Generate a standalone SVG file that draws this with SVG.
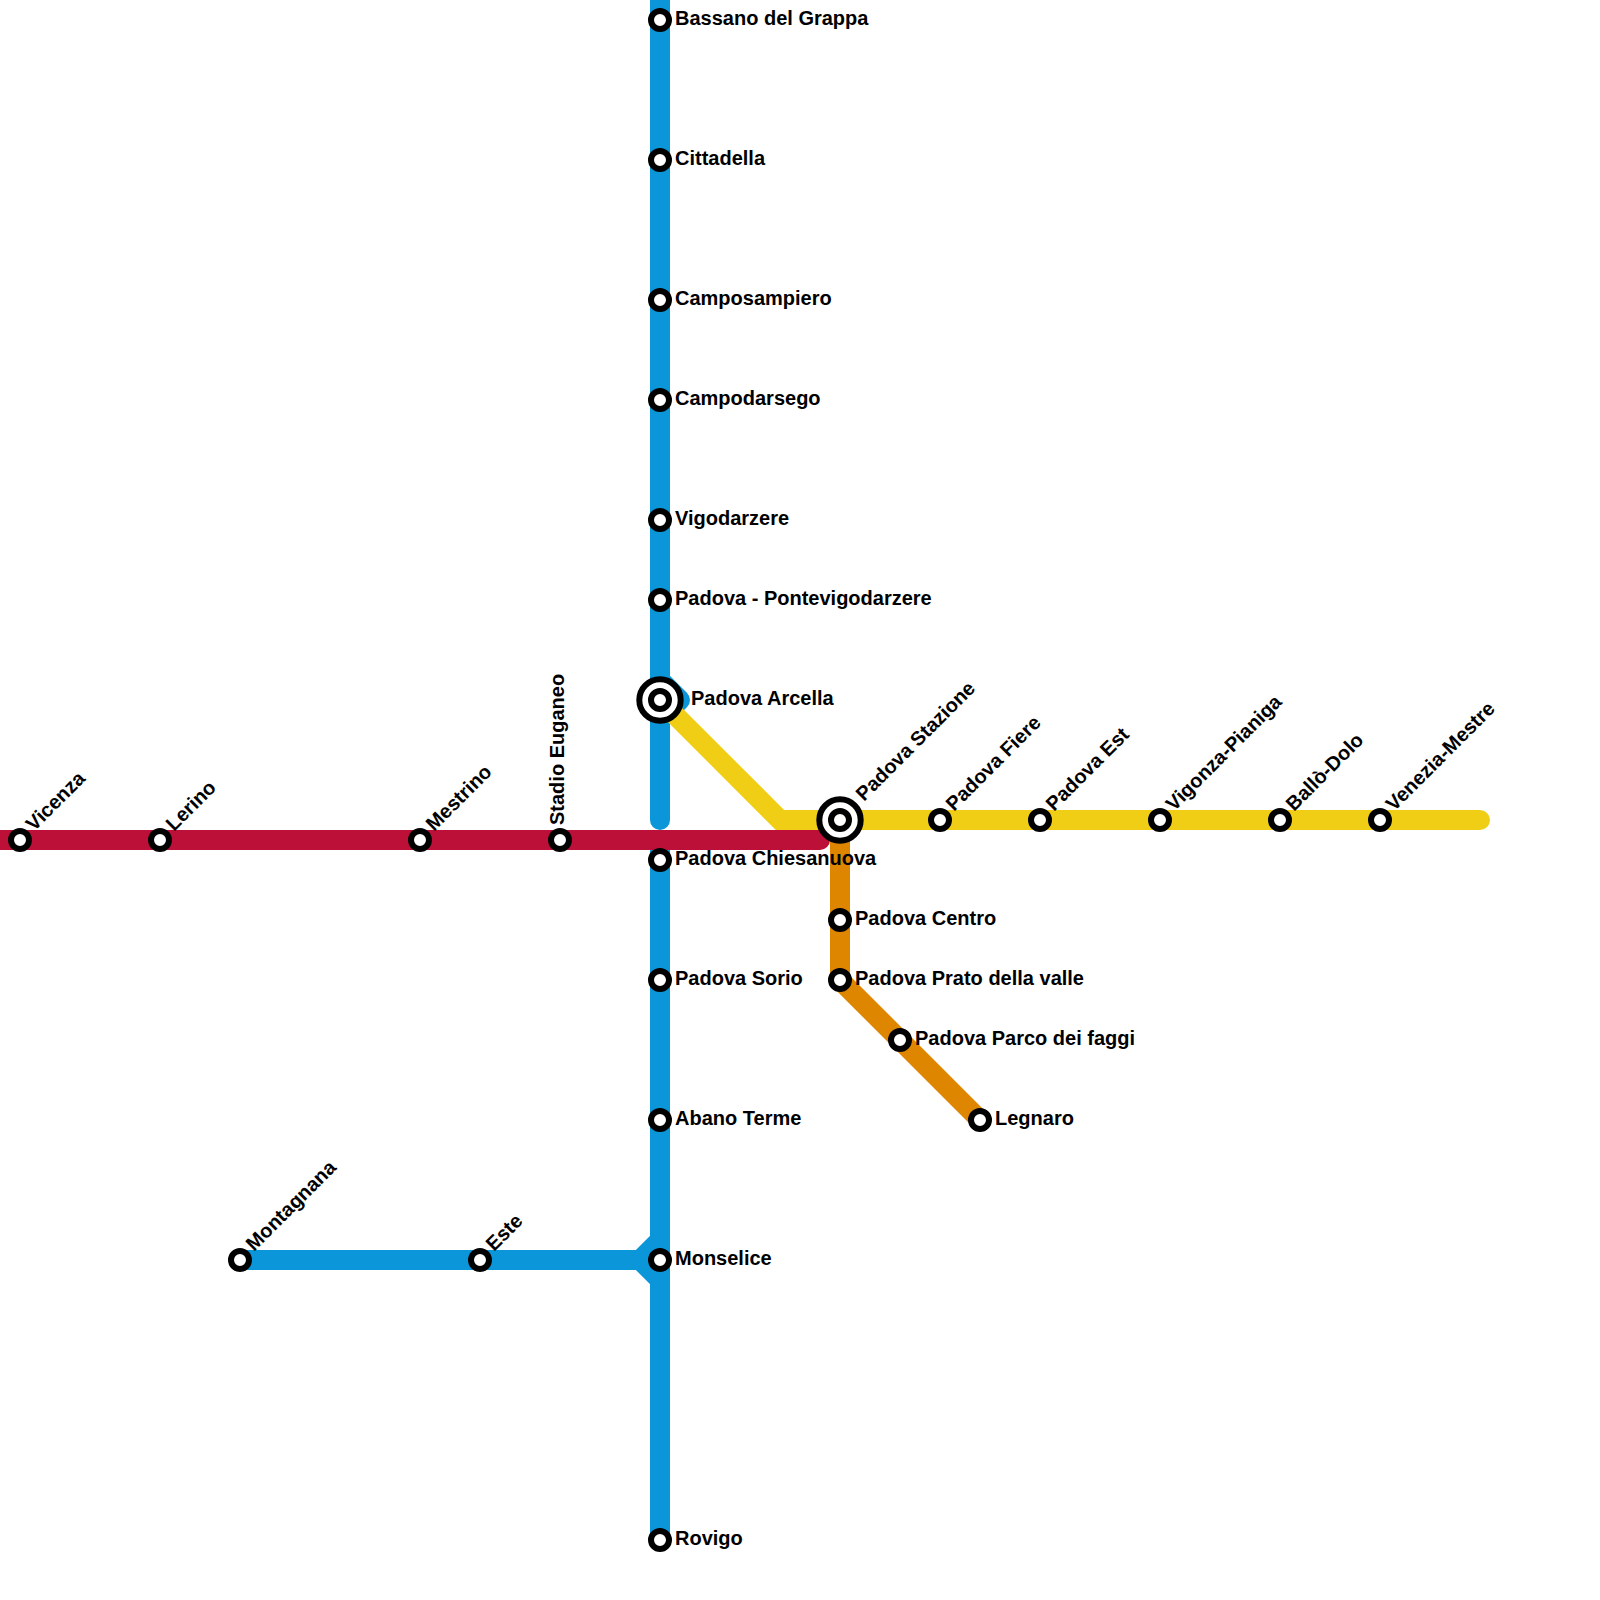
<svg xmlns="http://www.w3.org/2000/svg" width="1600" height="1600" viewBox="0 0 1600 1600">
<style>
.l{fill:none;stroke-width:20;stroke-linecap:round;stroke-linejoin:miter}
.s{fill:#fff;stroke:#000;stroke-width:6}
.t{font-family:"Liberation Sans",Arial,sans-serif;font-weight:700;font-size:20px;fill:#000}
.o{fill:#fff;stroke:#000;stroke-width:6}
</style>
<g id="connectors">
<path class="l" stroke="#0a96d8" d="M660,-20V820"/>
<path class="l" stroke="#0a96d8" style="stroke-linejoin:round" d="M660,680L680,700L660,720"/>
<path class="l" stroke="#0a96d8" d="M660,850V1540"/>
<path class="l" stroke="#0a96d8" d="M240,1260H660"/>
<path class="l" stroke="#0a96d8" style="stroke-linecap:butt" d="M660,1240L640,1260L660,1280"/>
<path class="l" stroke="#df8600" d="M840,820V980L980,1120"/>
<path class="l" stroke="#f0ce15" d="M660,700L780,820H1480"/>
<path class="l" stroke="#bd1038" d="M-20,840H820"/>
</g>
<g id="n-bassano"><circle class="s" cx="660" cy="20" r="9"/><text class="t" x="675" y="25">Bassano del Grappa</text></g>
<g id="n-cittadella"><circle class="s" cx="660" cy="160" r="9"/><text class="t" x="675" y="165">Cittadella</text></g>
<g id="n-camposampiero"><circle class="s" cx="660" cy="300" r="9"/><text class="t" x="675" y="305">Camposampiero</text></g>
<g id="n-campodarsego"><circle class="s" cx="660" cy="400" r="9"/><text class="t" x="675" y="405">Campodarsego</text></g>
<g id="n-vigodarzere"><circle class="s" cx="660" cy="520" r="9"/><text class="t" x="675" y="525">Vigodarzere</text></g>
<g id="n-pontevigodarzere"><circle class="s" cx="660" cy="600" r="9"/><text class="t" x="675" y="605">Padova - Pontevigodarzere</text></g>
<g id="n-arcella"><circle class="o" cx="660" cy="700" r="20.7"/><circle class="s" cx="660" cy="700" r="9"/><text class="t" x="691" y="705">Padova Arcella</text></g>
<g id="n-chiesanuova"><circle class="s" cx="660" cy="860" r="9"/><text class="t" x="675" y="865">Padova Chiesanuova</text></g>
<g id="n-sorio"><circle class="s" cx="660" cy="980" r="9"/><text class="t" x="675" y="985">Padova Sorio</text></g>
<g id="n-abano"><circle class="s" cx="660" cy="1120" r="9"/><text class="t" x="675" y="1125">Abano Terme</text></g>
<g id="n-monselice"><circle class="s" cx="660" cy="1260" r="9"/><text class="t" x="675" y="1265">Monselice</text></g>
<g id="n-rovigo"><circle class="s" cx="660" cy="1540" r="9"/><text class="t" x="675" y="1545">Rovigo</text></g>
<g id="n-montagnana"><circle class="s" cx="240" cy="1260" r="9"/><text class="t" transform="translate(254,1252) rotate(-45)">Montagnana</text></g>
<g id="n-este"><circle class="s" cx="480" cy="1260" r="9"/><text class="t" transform="translate(494,1252) rotate(-45)">Este</text></g>
<g id="n-vicenza"><circle class="s" cx="20" cy="840" r="9"/><text class="t" transform="translate(34,832) rotate(-45)">Vicenza</text></g>
<g id="n-lerino"><circle class="s" cx="160" cy="840" r="9"/><text class="t" transform="translate(174,832) rotate(-45)">Lerino</text></g>
<g id="n-mestrino"><circle class="s" cx="420" cy="840" r="9"/><text class="t" transform="translate(434,832) rotate(-45)">Mestrino</text></g>
<g id="n-stadio"><circle class="s" cx="560" cy="840" r="9"/><text class="t" transform="translate(564,825) rotate(-90)">Stadio Euganeo</text></g>
<g id="n-stazione"><circle class="o" cx="840" cy="820" r="20.7"/><circle class="s" cx="840" cy="820" r="9"/><text class="t" transform="translate(864,802) rotate(-45)">Padova Stazione</text></g>
<g id="n-fiere"><circle class="s" cx="940" cy="820" r="9"/><text class="t" transform="translate(954,812) rotate(-45)">Padova Fiere</text></g>
<g id="n-est"><circle class="s" cx="1040" cy="820" r="9"/><text class="t" transform="translate(1054,812) rotate(-45)">Padova Est</text></g>
<g id="n-vigonza"><circle class="s" cx="1160" cy="820" r="9"/><text class="t" transform="translate(1174,812) rotate(-45)">Vigonza-Pianiga</text></g>
<g id="n-ballo"><circle class="s" cx="1280" cy="820" r="9"/><text class="t" transform="translate(1294,812) rotate(-45)">Ballò-Dolo</text></g>
<g id="n-venezia"><circle class="s" cx="1380" cy="820" r="9"/><text class="t" transform="translate(1394,812) rotate(-45)">Venezia-Mestre</text></g>
<g id="n-centro"><circle class="s" cx="840" cy="920" r="9"/><text class="t" x="855" y="925">Padova Centro</text></g>
<g id="n-prato"><circle class="s" cx="840" cy="980" r="9"/><text class="t" x="855" y="985">Padova Prato della valle</text></g>
<g id="n-parco"><circle class="s" cx="900" cy="1040" r="9"/><text class="t" x="915" y="1045">Padova Parco dei faggi</text></g>
<g id="n-legnaro"><circle class="s" cx="980" cy="1120" r="9"/><text class="t" x="995" y="1125">Legnaro</text></g>
</svg>
